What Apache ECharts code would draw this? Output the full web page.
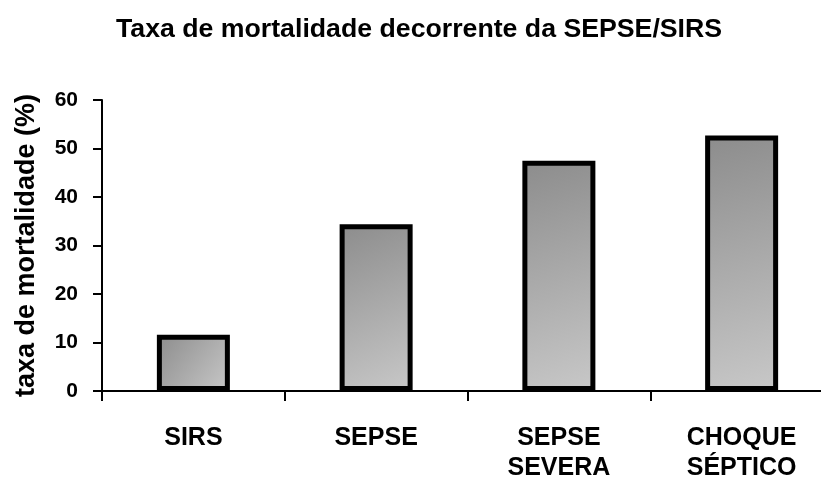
<!DOCTYPE html>
<html>
<head>
<meta charset="utf-8">
<script src="https://cdn.jsdelivr.net/npm/echarts@6/dist/echarts.min.js"></script>
<style>
  html, body { margin: 0; padding: 0; background: #fff; }
  #chart { width: 821px; height: 478px; }
</style>
</head>
<body>
<div id="chart"></div>
<script>
  // categorias e valores
  const categories = ['SIRS', 'SEPSE', 'SEPSE\nSEVERA', 'CHOQUE\nSÉPTICO'];
  const mortality = [11.6, 34.4, 47.5, 52.7];
  const yTicks = { min: 0, max: 60, interval: 10 };

  const font = '"Liberation Sans", Arial, sans-serif';

  const chart = echarts.init(document.getElementById('chart'));
  chart.setOption({
    backgroundColor: '#fff',
    animation: false,
    title: {
      text: 'Taxa de mortalidade decorrente da SEPSE/SIRS',
      left: 111,
      top: 11,
      textStyle: { fontFamily: font, fontWeight: 'bold', fontSize: 26.7, color: '#000' }
    },
    grid: { left: 102, right: -12, top: 100, bottom: 87, containLabel: false, outerBoundsMode: 'none' },
    xAxis: {
      type: 'category',
      data: categories,
      axisLine: { lineStyle: { color: '#000', width: 2 } },
      axisTick: { show: true, length: 10, lineStyle: { color: '#000', width: 2 } },
      axisLabel: {
        color: '#000', fontFamily: font, fontWeight: 'bold', fontSize: 25,
        margin: 32, lineHeight: 30, interval: 0
      }
    },
    yAxis: {
      type: 'value',
      min: yTicks.min,
      max: yTicks.max,
      interval: yTicks.interval,
      name: 'taxa de mortalidade (%)',
      nameLocation: 'middle',
      nameRotate: 90,
      nameGap: 62,
      nameTextStyle: { color: '#000', fontFamily: font, fontWeight: 'bold', fontSize: 27 },
      splitLine: { show: false },
      axisLine: { show: true, lineStyle: { color: '#000', width: 2 } },
      axisTick: { show: true, length: 9, lineStyle: { color: '#000', width: 2 } },
      axisLabel: { color: '#000', fontFamily: font, fontWeight: 'bold', fontSize: 21, margin: 24 }
    },
    series: [{
      type: 'bar',
      data: mortality,
      barWidth: 73,
      itemStyle: {
        color: new echarts.graphic.LinearGradient(0, 0, 1, 1, [
          { offset: 0, color: '#8c8c8c' },
          { offset: 1, color: '#c8c8c8' }
        ]),
        borderColor: '#000',
        borderWidth: 5
      }
    }]
  });
</script>
</body>
</html>
